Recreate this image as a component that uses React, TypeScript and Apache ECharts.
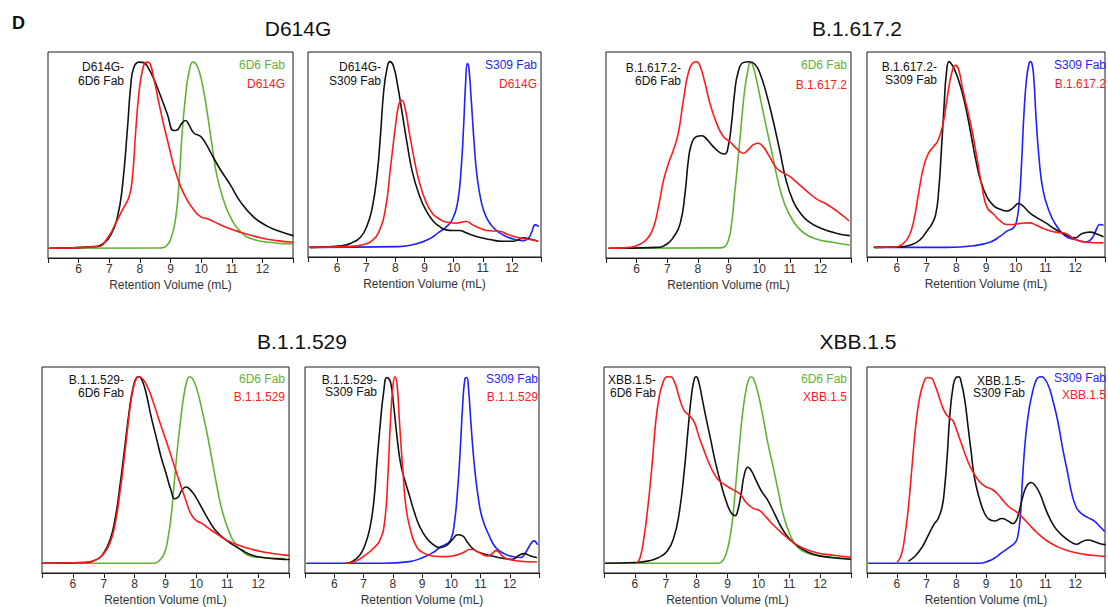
import React, { useEffect, useRef } from 'react';
import * as echarts from 'echarts';

type Pt = [number, number];

// ---- titles & labels ----
const panelTitles = ['D614G', 'B.1.617.2', 'B.1.1.529', 'XBB.1.5'];
const xAxisName = 'Retention Volume (mL)';
const xTickValues = [6, 7, 8, 9, 10, 11, 12];

// ---- data (normalized absorbance vs retention volume, mL) ----
// Panel 1: D614G + 6D6 Fab
const p1Complex: Pt[] = [[5.05,0],[6.5,0.009],[6.75,0.02],[7.05,0.072],[7.27,0.17],[7.43,0.332],[7.6,0.654],[7.7,0.869],[7.8,0.968],[7.97,0.998],[8.13,0.995],[8.3,0.959],[8.46,0.905],[8.68,0.815],[8.9,0.717],[9.1,0.631],[9.2,0.633],[9.38,0.672],[9.49,0.685],[9.6,0.663],[9.76,0.618],[9.98,0.6],[10.14,0.565],[10.41,0.484],[10.63,0.421],[10.95,0.341],[11.28,0.25],[11.7,0.17],[12.14,0.12],[12.58,0.09],[13.0,0.068]];
const p1Spike: Pt[] = [[5.05,0],[6.62,0.009],[6.94,0.054],[7.21,0.134],[7.43,0.206],[7.65,0.278],[7.76,0.385],[7.86,0.618],[7.97,0.833],[8.08,0.95],[8.21,0.998],[8.3,0.995],[8.46,0.905],[8.62,0.78],[8.79,0.654],[8.95,0.547],[9.11,0.439],[9.33,0.332],[9.54,0.26],[9.76,0.206],[9.98,0.17],[10.2,0.158],[10.41,0.143],[10.84,0.111],[11.28,0.086],[11.93,0.057],[12.47,0.041],[13.0,0.032]];
const p1Fab: Pt[] = [[5.05,0],[8.7,0.002],[8.84,0.009],[9.0,0.045],[9.16,0.152],[9.27,0.332],[9.38,0.618],[9.49,0.815],[9.6,0.941],[9.73,0.998],[9.87,0.977],[10.03,0.887],[10.2,0.726],[10.36,0.547],[10.52,0.385],[10.73,0.26],[10.95,0.17],[11.28,0.09],[11.7,0.048],[12.36,0.03],[13.0,0.023]];

// Panel 2: D614G + S309 Fab
const p2Complex: Pt[] = [[5.07,0],[6.16,0.009],[6.5,0.024],[6.8,0.054],[7.03,0.118],[7.2,0.208],[7.37,0.389],[7.49,0.607],[7.6,0.842],[7.72,0.969],[7.81,1.0],[7.93,0.978],[8.07,0.879],[8.24,0.716],[8.41,0.553],[8.58,0.408],[8.82,0.281],[9.05,0.199],[9.28,0.145],[9.5,0.114],[9.74,0.094],[9.97,0.091],[10.2,0.091],[10.43,0.078],[10.78,0.058],[11.24,0.042],[11.7,0.033],[12.05,0.033],[12.39,0.051],[12.62,0.045],[12.88,0.034]];
const p2Spike: Pt[] = [[5.07,0],[6.5,0.005],[6.97,0.018],[7.2,0.036],[7.43,0.082],[7.66,0.208],[7.83,0.426],[8.01,0.661],[8.12,0.77],[8.22,0.792],[8.33,0.752],[8.47,0.625],[8.64,0.48],[8.82,0.353],[9.05,0.245],[9.28,0.181],[9.5,0.154],[9.74,0.136],[10.08,0.13],[10.43,0.139],[10.66,0.121],[10.95,0.1],[11.24,0.089],[11.58,0.087],[11.82,0.072],[12.16,0.054],[12.62,0.042],[12.88,0.034]];
const p2Fab: Pt[] = [[5.07,0],[8.12,0.004],[8.7,0.018],[9.16,0.045],[9.5,0.082],[9.74,0.109],[9.97,0.154],[10.14,0.245],[10.26,0.426],[10.34,0.643],[10.41,0.879],[10.47,0.99],[10.52,0.969],[10.6,0.806],[10.7,0.571],[10.8,0.389],[10.95,0.245],[11.12,0.163],[11.35,0.109],[11.58,0.078],[11.87,0.054],[12.16,0.04],[12.39,0.036],[12.57,0.049],[12.68,0.082],[12.8,0.121],[12.91,0.114]];

// Panel 3: B.1.617.2 + 6D6 Fab
const p3Complex: Pt[] = [[5.1,0],[6.66,0.005],[6.99,0.023],[7.2,0.059],[7.42,0.131],[7.58,0.293],[7.69,0.473],[7.8,0.563],[7.96,0.599],[8.13,0.603],[8.29,0.585],[8.5,0.545],[8.72,0.513],[8.88,0.505],[8.99,0.545],[9.1,0.671],[9.2,0.833],[9.31,0.941],[9.48,0.995],[9.69,1.0],[9.86,0.986],[10.02,0.941],[10.23,0.833],[10.45,0.689],[10.67,0.527],[10.88,0.365],[11.1,0.257],[11.32,0.194],[11.64,0.14],[12.08,0.104],[12.51,0.081],[12.94,0.068]];
const p3Spike: Pt[] = [[5.1,0],[5.79,0.005],[6.12,0.023],[6.34,0.05],[6.55,0.113],[6.71,0.221],[6.88,0.365],[7.04,0.455],[7.2,0.527],[7.36,0.617],[7.53,0.797],[7.69,0.941],[7.85,0.995],[7.96,1.0],[8.07,0.977],[8.23,0.887],[8.39,0.779],[8.61,0.671],[8.83,0.599],[9.04,0.572],[9.26,0.536],[9.48,0.509],[9.64,0.527],[9.8,0.554],[9.96,0.563],[10.13,0.545],[10.34,0.491],[10.56,0.432],[10.78,0.405],[11.0,0.385],[11.21,0.356],[11.53,0.311],[11.86,0.266],[12.18,0.239],[12.51,0.203],[12.92,0.149]];
const p3Fab: Pt[] = [[5.1,0],[8.6,0.002],[8.83,0.005],[8.99,0.041],[9.1,0.131],[9.2,0.293],[9.31,0.473],[9.42,0.671],[9.53,0.851],[9.64,0.959],[9.71,0.995],[9.78,0.986],[9.91,0.905],[10.07,0.779],[10.23,0.653],[10.4,0.527],[10.61,0.365],[10.83,0.239],[11.1,0.149],[11.43,0.086],[11.86,0.05],[12.4,0.032],[12.94,0.018]];

// Panel 4: B.1.617.2 + S309 Fab
const p4Complex: Pt[] = [[5.25,0],[6.08,0.002],[6.52,0.015],[6.79,0.042],[7.01,0.087],[7.17,0.123],[7.31,0.178],[7.41,0.305],[7.5,0.523],[7.59,0.759],[7.67,0.94],[7.76,1.0],[7.85,0.985],[7.94,0.958],[8.07,0.904],[8.22,0.822],[8.36,0.722],[8.49,0.613],[8.66,0.468],[8.82,0.359],[9.04,0.269],[9.26,0.223],[9.48,0.205],[9.7,0.196],[9.92,0.214],[10.09,0.236],[10.24,0.223],[10.46,0.187],[10.68,0.163],[11.01,0.132],[11.34,0.096],[11.67,0.069],[12.0,0.051],[12.22,0.073],[12.49,0.082],[12.77,0.069],[12.93,0.058]];
const p4Spike: Pt[] = [[5.25,0],[5.97,0.002],[6.24,0.024],[6.41,0.06],[6.57,0.142],[6.73,0.287],[6.9,0.432],[7.06,0.505],[7.23,0.541],[7.39,0.577],[7.56,0.668],[7.72,0.831],[7.85,0.94],[7.97,0.98],[8.08,0.958],[8.22,0.849],[8.38,0.74],[8.55,0.613],[8.71,0.468],[8.87,0.323],[9.04,0.214],[9.26,0.178],[9.48,0.142],[9.7,0.123],[9.92,0.123],[10.14,0.129],[10.46,0.132],[10.68,0.12],[11.01,0.096],[11.34,0.082],[11.67,0.074],[12.0,0.042],[12.33,0.029],[12.93,0.024]];
const p4Fab: Pt[] = [[5.25,0],[7.72,0],[8.6,0.009],[9.15,0.029],[9.48,0.06],[9.7,0.087],[9.92,0.105],[10.03,0.142],[10.12,0.25],[10.2,0.468],[10.27,0.704],[10.36,0.904],[10.44,0.985],[10.49,1.0],[10.55,0.985],[10.61,0.904],[10.68,0.704],[10.79,0.468],[10.92,0.305],[11.12,0.196],[11.34,0.123],[11.67,0.06],[12.0,0.042],[12.33,0.029],[12.55,0.047],[12.71,0.096],[12.82,0.123],[12.93,0.12]];

// Panel 5: B.1.1.529 + 6D6 Fab
const p5Complex: Pt[] = [[5.02,0],[6.35,0.004],[6.78,0.021],[6.99,0.053],[7.2,0.124],[7.36,0.231],[7.52,0.409],[7.68,0.622],[7.84,0.835],[7.95,0.941],[8.06,0.995],[8.14,1.0],[8.25,0.977],[8.38,0.906],[8.54,0.782],[8.7,0.675],[8.86,0.568],[9.02,0.48],[9.18,0.391],[9.3,0.346],[9.41,0.355],[9.53,0.391],[9.66,0.409],[9.82,0.391],[9.98,0.355],[10.19,0.293],[10.4,0.231],[10.61,0.178],[10.83,0.142],[11.15,0.103],[11.47,0.071],[11.79,0.044],[12.21,0.03],[12.85,0.021],[13,0.02]];
const p5Spike: Pt[] = [[5.02,0],[6.35,0.004],[6.78,0.021],[6.99,0.048],[7.2,0.107],[7.36,0.204],[7.52,0.373],[7.68,0.586],[7.84,0.817],[7.95,0.933],[8.06,0.991],[8.14,1.0],[8.27,0.986],[8.43,0.941],[8.59,0.87],[8.8,0.764],[9.02,0.657],[9.23,0.551],[9.44,0.444],[9.66,0.337],[9.82,0.266],[9.98,0.231],[10.19,0.213],[10.4,0.187],[10.72,0.151],[11.04,0.119],[11.36,0.098],[11.79,0.075],[12.21,0.059],[12.85,0.044],[13,0.042]];
const p5Fab: Pt[] = [[5.02,0],[8.6,0],[8.8,0.014],[8.96,0.053],[9.07,0.124],[9.18,0.249],[9.28,0.426],[9.39,0.622],[9.5,0.782],[9.6,0.906],[9.71,0.986],[9.78,1.0],[9.89,0.986],[10.03,0.924],[10.19,0.817],[10.35,0.693],[10.51,0.551],[10.67,0.409],[10.83,0.284],[11.04,0.178],[11.25,0.107],[11.57,0.053],[12.0,0.032],[12.85,0.025]];

// Panel 6: B.1.1.529 + S309 Fab
const p6Complex: Pt[] = [[6.42,0],[6.65,0.013],[6.87,0.043],[7.04,0.093],[7.21,0.183],[7.35,0.327],[7.46,0.542],[7.58,0.758],[7.69,0.919],[7.8,0.996],[7.92,0.973],[8.03,0.847],[8.14,0.686],[8.26,0.542],[8.4,0.452],[8.57,0.363],[8.74,0.273],[8.91,0.201],[9.14,0.138],[9.37,0.102],[9.6,0.084],[9.82,0.093],[10.05,0.129],[10.22,0.153],[10.39,0.147],[10.56,0.111],[10.79,0.072],[11.07,0.052],[11.41,0.039],[11.75,0.027],[12.09,0.022],[12.32,0.043],[12.49,0.052],[12.71,0.039],[12.91,0.031]];
const p6Spike: Pt[] = [[6.42,0],[6.76,0.013],[7.1,0.048],[7.33,0.079],[7.55,0.12],[7.72,0.219],[7.84,0.488],[7.92,0.758],[8.01,0.955],[8.08,1.0],[8.15,0.955],[8.23,0.758],[8.35,0.488],[8.46,0.291],[8.63,0.165],[8.8,0.093],[9.03,0.057],[9.37,0.039],[9.71,0.036],[10.05,0.039],[10.39,0.057],[10.67,0.075],[10.96,0.057],[11.24,0.039],[11.41,0.054],[11.53,0.068],[11.64,0.057],[11.81,0.031],[12.2,0.014],[12.91,0.007]];
const p6Fab: Pt[] = [[5.06,0],[7.67,0],[8.57,0.009],[9.03,0.031],[9.37,0.057],[9.65,0.09],[9.82,0.102],[9.99,0.129],[10.11,0.219],[10.22,0.399],[10.31,0.614],[10.39,0.847],[10.47,0.991],[10.53,0.996],[10.59,0.937],[10.67,0.758],[10.79,0.524],[10.93,0.345],[11.07,0.237],[11.3,0.147],[11.52,0.084],[11.81,0.052],[12.09,0.036],[12.37,0.031],[12.54,0.057],[12.71,0.102],[12.83,0.12],[12.94,0.102]];

// Panel 7: XBB.1.5 + 6D6 Fab
const p7Complex: Pt[] = [[5.05,0],[6.01,0.004],[6.45,0.013],[6.77,0.031],[7.05,0.066],[7.26,0.138],[7.43,0.264],[7.59,0.479],[7.73,0.731],[7.84,0.91],[7.93,0.991],[7.99,1.0],[8.08,0.964],[8.19,0.874],[8.32,0.767],[8.46,0.659],[8.62,0.533],[8.79,0.425],[8.95,0.336],[9.11,0.273],[9.25,0.255],[9.33,0.282],[9.44,0.372],[9.55,0.479],[9.66,0.515],[9.77,0.497],[9.93,0.443],[10.09,0.39],[10.31,0.336],[10.53,0.264],[10.75,0.192],[11.02,0.129],[11.35,0.084],[11.78,0.048],[12.33,0.031],[12.98,0.022]];
const p7Spike: Pt[] = [[6.08,0.004],[6.17,0.031],[6.28,0.12],[6.42,0.3],[6.56,0.533],[6.66,0.731],[6.77,0.874],[6.9,0.964],[7.05,1.0],[7.15,1.0],[7.3,0.964],[7.43,0.892],[7.59,0.82],[7.75,0.794],[7.92,0.758],[8.08,0.677],[8.24,0.605],[8.41,0.533],[8.57,0.479],[8.73,0.443],[8.95,0.417],[9.17,0.395],[9.4,0.372],[9.6,0.327],[9.82,0.296],[10.04,0.282],[10.26,0.246],[10.48,0.206],[10.8,0.156],[11.13,0.111],[11.46,0.081],[11.89,0.057],[12.43,0.043],[12.98,0.034]];
const p7Fab: Pt[] = [[5.05,0],[8.7,0],[8.84,0.013],[8.95,0.048],[9.06,0.12],[9.17,0.246],[9.28,0.443],[9.39,0.641],[9.5,0.82],[9.6,0.928],[9.69,0.986],[9.77,1.0],[9.85,0.986],[9.99,0.91],[10.15,0.785],[10.31,0.641],[10.48,0.515],[10.64,0.39],[10.8,0.264],[11.02,0.156],[11.24,0.093],[11.56,0.057],[12.11,0.038],[12.98,0.025]];

// Panel 8: XBB.1.5 + S309 Fab
const p8Complex: Pt[] = [[6.41,0.013],[6.62,0.039],[6.84,0.084],[7.05,0.147],[7.25,0.209],[7.38,0.236],[7.52,0.299],[7.61,0.406],[7.7,0.585],[7.78,0.782],[7.89,0.943],[7.99,0.996],[8.08,1.0],[8.18,0.961],[8.29,0.871],[8.4,0.728],[8.51,0.585],[8.61,0.46],[8.77,0.352],[8.94,0.272],[9.1,0.236],[9.31,0.227],[9.53,0.24],[9.74,0.227],[9.9,0.213],[10.01,0.227],[10.12,0.281],[10.23,0.352],[10.37,0.415],[10.52,0.433],[10.66,0.415],[10.82,0.37],[11.03,0.281],[11.25,0.209],[11.46,0.165],[11.68,0.134],[11.89,0.111],[12.05,0.102],[12.22,0.116],[12.43,0.125],[12.65,0.116],[12.81,0.106],[13,0.1]];
const p8Spike: Pt[] = [[6.03,0.009],[6.14,0.039],[6.25,0.12],[6.39,0.299],[6.52,0.531],[6.62,0.71],[6.75,0.871],[6.89,0.961],[7.03,0.996],[7.16,0.993],[7.29,0.952],[7.43,0.889],[7.59,0.818],[7.75,0.782],[7.89,0.764],[8.02,0.71],[8.18,0.639],[8.34,0.567],[8.51,0.504],[8.72,0.451],[8.94,0.415],[9.2,0.397],[9.4,0.37],[9.58,0.335],[9.8,0.299],[10.01,0.277],[10.23,0.245],[10.44,0.209],[10.71,0.165],[11.03,0.123],[11.35,0.093],[11.78,0.066],[12.32,0.048],[12.81,0.039],[13.0,0.037]];
const p8Fab: Pt[] = [[5.06,0],[8.77,0],[9.1,0.013],[9.31,0.03],[9.53,0.057],[9.69,0.075],[9.85,0.093],[9.98,0.111],[10.06,0.138],[10.15,0.245],[10.23,0.46],[10.33,0.674],[10.44,0.818],[10.55,0.907],[10.66,0.97],[10.76,0.996],[10.87,1.0],[10.98,0.987],[11.12,0.943],[11.25,0.871],[11.41,0.764],[11.57,0.621],[11.73,0.496],[11.89,0.37],[12.05,0.295],[12.22,0.265],[12.43,0.245],[12.65,0.225],[12.81,0.2],[12.97,0.174]];

// ---- styling / layout ----
const BLACK = '#111111';
const RED = '#ff1a1a';
const GREEN = '#62b234';
const BLUE = '#1f1fff';
const FONT = '"Liberation Sans", Arial, Helvetica, sans-serif';

const X_MIN = 5, X_MAX = 13, Y_MIN = -0.052, Y_MAX = 1.052;

interface Panel {
  rect: [number, number, number, number];
  complex: Pt[]; spike: Pt[]; fab: Pt[];
  fabColor: string;
  complexLabel: [string, string];
  fabLabel: string; spikeLabel: string;
  leftX: number; leftY: [number, number];
  rightX: number; rightY: [number, number];
}

const panels: Panel[] = [
  { rect: [48, 52, 245, 206], complex: p1Complex, spike: p1Spike, fab: p1Fab, fabColor: GREEN,
    complexLabel: ['D614G-', '6D6 Fab'], fabLabel: '6D6 Fab', spikeLabel: 'D614G',
    leftX: 124, leftY: [67, 81], rightX: 285, rightY: [65, 84] },
  { rect: [308, 52, 233, 205], complex: p2Complex, spike: p2Spike, fab: p2Fab, fabColor: BLUE,
    complexLabel: ['D614G-', 'S309 Fab'], fabLabel: 'S309 Fab', spikeLabel: 'D614G',
    leftX: 381, leftY: [67, 81], rightX: 537, rightY: [65, 84] },
  { rect: [606, 52, 245, 206], complex: p3Complex, spike: p3Spike, fab: p3Fab, fabColor: GREEN,
    complexLabel: ['B.1.617.2-', '6D6 Fab'], fabLabel: '6D6 Fab', spikeLabel: 'B.1.617.2',
    leftX: 681, leftY: [68, 81], rightX: 847, rightY: [65, 85] },
  { rect: [867, 52, 243, 205], complex: p4Complex, spike: p4Spike, fab: p4Fab, fabColor: BLUE,
    complexLabel: ['B.1.617.2-', 'S309 Fab'], fabLabel: 'S309 Fab', spikeLabel: 'B.1.617.2',
    leftX: 937, leftY: [67, 80], rightX: 1106, rightY: [65, 84] },
  { rect: [42, 367, 247, 206], complex: p5Complex, spike: p5Spike, fab: p5Fab, fabColor: GREEN,
    complexLabel: ['B.1.1.529-', '6D6 Fab'], fabLabel: '6D6 Fab', spikeLabel: 'B.1.1.529',
    leftX: 124, leftY: [380, 393], rightX: 285, rightY: [379, 397] },
  { rect: [305, 367, 234, 206], complex: p6Complex, spike: p6Spike, fab: p6Fab, fabColor: BLUE,
    complexLabel: ['B.1.1.529-', 'S309 Fab'], fabLabel: 'S309 Fab', spikeLabel: 'B.1.1.529',
    leftX: 377, leftY: [380, 392], rightX: 538, rightY: [379, 397] },
  { rect: [604, 367, 247, 206], complex: p7Complex, spike: p7Spike, fab: p7Fab, fabColor: GREEN,
    complexLabel: ['XBB.1.5-', '6D6 Fab'], fabLabel: '6D6 Fab', spikeLabel: 'XBB.1.5',
    leftX: 656, leftY: [380, 393], rightX: 847, rightY: [379, 397] },
  { rect: [867, 367, 248, 206], complex: p8Complex, spike: p8Spike, fab: p8Fab, fabColor: BLUE,
    complexLabel: ['XBB.1.5-', 'S309 Fab'], fabLabel: 'S309 Fab', spikeLabel: 'XBB.1.5',
    leftX: 1025, leftY: [381, 393], rightX: 1106, rightY: [378, 395] },
];

const titlePos: [number, number][] = [[298, 28], [857, 28], [302, 341], [858, 341]];

function text(x: number, y: number, s: string, fill: string, size: number, align = 'right', weight = 'normal') {
  return {
    type: 'text', x, y, silent: true, z: 100,
    style: { text: s, fill, font: `${weight} ${size}px ${FONT}`, align, verticalAlign: 'middle' },
  };
}

export default function App() {
  const ref = useRef<HTMLDivElement>(null);
  useEffect(() => {
    if (!ref.current) return;
    const chart = echarts.init(ref.current, undefined, { renderer: 'svg' });
    const grid: any[] = [];
    const xAxis: any[] = [];
    const yAxis: any[] = [];
    const series: any[] = [];
    const graphic: any[] = [];

    panels.forEach((p, i) => {
      const [left, top, width, height] = p.rect;
      grid.push({ left, top, width, height, show: true, borderColor: '#1a1a1a', borderWidth: 1, backgroundColor: 'transparent', containLabel: false });
      xAxis.push({
        gridIndex: i, type: 'value', min: X_MIN, max: X_MAX, interval: 1,
        axisLine: { show: true, onZero: false, lineStyle: { color: '#1a1a1a', width: 1 } },
        axisTick: { show: true, inside: false, length: 5, lineStyle: { color: '#1a1a1a', width: 1 } },
        axisLabel: {
          show: true, margin: 5, fontSize: 12, color: '#333', fontFamily: FONT,
          formatter: (v: number) => (xTickValues.includes(v) ? String(v) : ''),
        },
        splitLine: { show: false },
        name: xAxisName, nameLocation: 'middle', nameGap: 21,
        nameTextStyle: { fontSize: 12, color: '#333', fontFamily: FONT },
      });
      yAxis.push({ gridIndex: i, type: 'value', min: Y_MIN, max: Y_MAX, show: false, splitLine: { show: false } });
      const mk = (data: Pt[], color: string) => ({
        type: 'line', xAxisIndex: i, yAxisIndex: i, data, smooth: 0.5,
        showSymbol: false, symbol: 'none', clip: true, silent: true,
        lineStyle: { color, width: 1.6, join: 'round', cap: 'round' },
      });
      series.push(mk(p.fab, p.fabColor));
      series.push(mk(p.complex, BLACK));
      series.push(mk(p.spike, RED));

      graphic.push(text(p.leftX, p.leftY[0], p.complexLabel[0], BLACK, 12));
      graphic.push(text(p.leftX, p.leftY[1], p.complexLabel[1], BLACK, 12));
      graphic.push(text(p.rightX, p.rightY[0], p.fabLabel, p.fabColor, 12));
      graphic.push(text(p.rightX, p.rightY[1], p.spikeLabel, RED, 12));
    });

    panelTitles.forEach((t, i) => {
      graphic.push(text(titlePos[i][0], titlePos[i][1], t, '#111', 21, 'center'));
    });
    graphic.push(text(12, 23, 'D', '#111', 18, 'left', 'bold'));

    chart.setOption({
      animation: false,
      backgroundColor: '#ffffff',
      grid, xAxis, yAxis, series, graphic,
    });
    return () => chart.dispose();
  }, []);

  return (
    <div
      ref={ref}
      style={{ position: 'absolute', left: 0, top: 0, width: 1108, height: 607, overflow: 'hidden' }}
    />
  );
}
